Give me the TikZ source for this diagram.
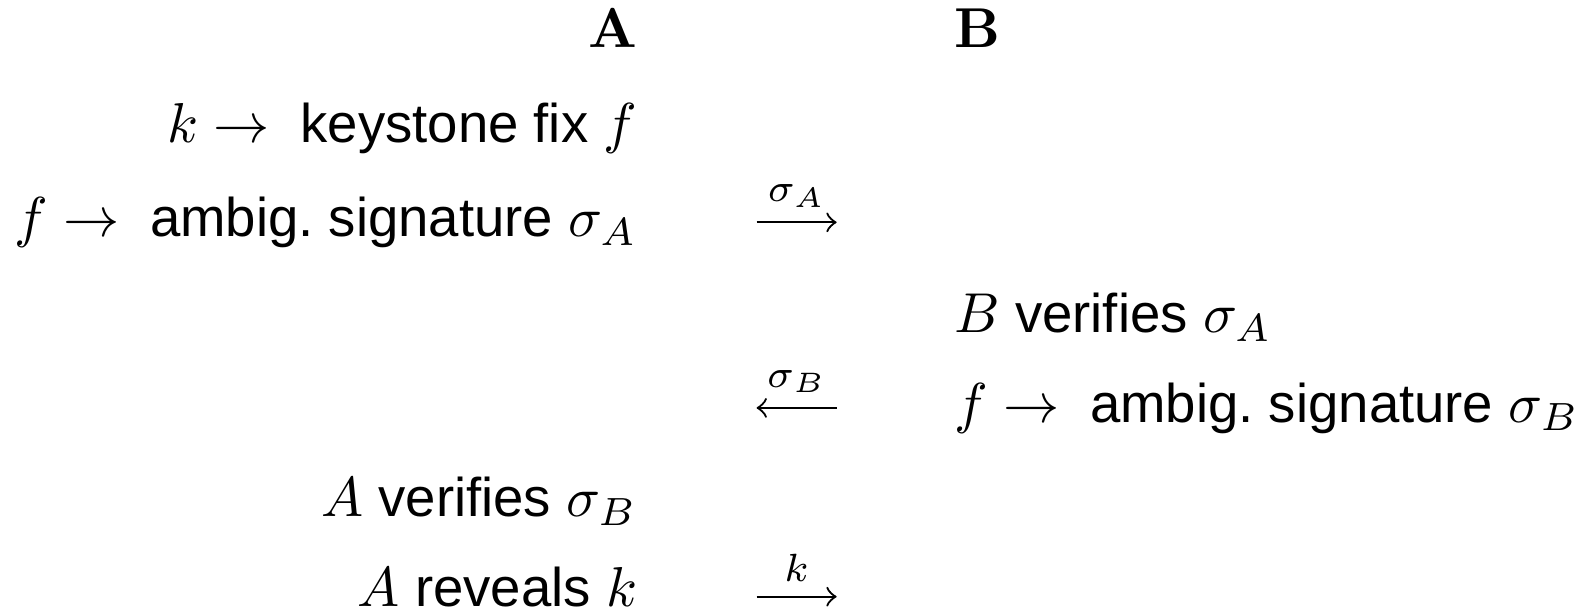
\documentclass[tikz,border=0pt]{standalone}
\usepackage[no-math]{fontspec}
\setmainfont{Liberation Sans}[Scale=0.97]

\begin{document}
\begin{tikzpicture}[
    colA/.style={anchor=base east, inner sep=0pt},
    colB/.style={anchor=base west, inner sep=0pt},
    msg/.style={->},
    msglabel/.style={above, inner sep=2.5pt}
]
    % Parametri modificabili a piacimento
    \def\xa{3.99}      % Bordo destro della colonna A
    \def\xb{5.96}      % Bordo sinistro della colonna B
    \def\xl{4.73}      % Inizio delle frecce
    \def\xr{5.23}      % Fine delle frecce

    % Cornice
    \useasboundingbox (0,0) rectangle (9.94,-3.84);

    % Intestazioni
    \node[colA] (hA) at (\xa,-0.30) {$\mathbf{A}$};
    \node[colB] (hB) at (\xb,-0.30) {$\mathbf{B}$};

    % Passi di A
    \node[colA] (a1) at (\xa,-0.89) {$k \rightarrow$\ \ keystone fix $f$};
    \node[colA] (a2) at (\xa,-1.48) {$f \rightarrow$\ \ ambig.\ signature $\sigma_A$};
    \node[colA] (a3) at (\xa,-3.23) {$A$ verifies $\sigma_B$};
    \node[colA] (a4) at (\xa,-3.79) {$A$ reveals $k$};

    % Passi di B
    \node[colB] (b1) at (\xb,-2.08) {$B$ verifies $\sigma_A$};
    \node[colB] (b2) at (\xb,-2.64) {$f \rightarrow$\ \ ambig.\ signature $\sigma_B$};

    % Estremi delle frecce (messaggi)
    \coordinate (m1l) at (\xl,-1.39);
    \coordinate (m1r) at (\xr,-1.39);
    \coordinate (m2l) at (\xl,-2.55);
    \coordinate (m2r) at (\xr,-2.55);
    \coordinate (m3l) at (\xl,-3.73);
    \coordinate (m3r) at (\xr,-3.73);

    % Messaggi
    \draw[msg] (m1l) -- (m1r) node[midway, msglabel] {$\scriptstyle\sigma_A$};
    \draw[msg] (m2r) -- (m2l) node[midway, msglabel] {$\scriptstyle\sigma_B$};
    \draw[msg] (m3l) -- (m3r) node[midway, msglabel] {$\scriptstyle k$};

\end{tikzpicture}
\end{document}
